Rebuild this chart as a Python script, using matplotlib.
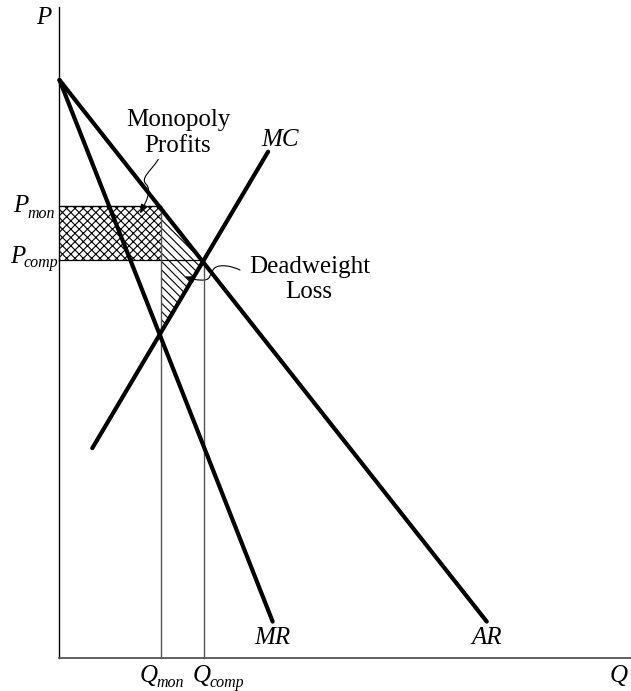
"""
Monopoly vs. competition: profits and deadweight loss
"""

import matplotlib

matplotlib.use("Agg")
import matplotlib.pyplot as plt
import numpy as np
from matplotlib.patches import FancyArrowPatch
from matplotlib.path import Path

# demand (AR), marginal revenue (MR) and marginal cost (MC) end points
ar_q = [0.0, 9.38]
ar_p = [10.0, 0.63]
mr_q = [0.0, 4.68]
mr_p = [10.0, 0.63]
mc_q = [0.72, 4.58]
mc_p = [3.63, 8.76]

# equilibrium quantities and prices
q_mon = 2.23
q_comp = 3.17
p_mon = 7.82
p_comp = 6.89

# axis extents
q_max = 12.55
p_max = 11.26

plt.rcParams["font.family"] = ["Liberation Serif", "DejaVu Serif"]
plt.rcParams["hatch.linewidth"] = 0.8

fig = plt.figure(figsize=(6.31, 6.91), dpi=100)
ax = fig.add_axes([0, 0, 1, 1])
ax.set_xlim(-1.306, 12.547)
ax.set_ylim(-0.571, 11.384)
ax.axis("off")

# shaded regions
mc_at_qmon = np.interp(q_mon, mc_q, mc_p)
ax.fill([0, q_mon, q_mon, 0], [p_comp, p_comp, p_mon, p_mon],
        facecolor="none", edgecolor="black", hatch="xxxx", lw=0)
ax.fill([q_mon, q_comp, q_mon], [p_mon, p_comp, mc_at_qmon],
        facecolor="none", edgecolor="black", hatch="\\\\\\\\", lw=0)

# axes
ax.plot([0, 0], [0, p_max], color="black", lw=1.0)
ax.plot([0, q_max], [0, 0], color="#555555", lw=1.3)

# guide lines
ax.plot([0, q_mon], [p_mon, p_mon], color="black", lw=1.0)
ax.plot([0, q_comp], [p_comp, p_comp], color="black", lw=0.9)
ax.plot([q_mon, q_mon], [0, p_mon], color="#555555", lw=1.0)
ax.plot([q_comp, q_comp], [0, p_comp], color="#555555", lw=1.0)

# curves
for qs, ps in [(ar_q, ar_p), (mr_q, mr_p), (mc_q, mc_p)]:
    ax.plot(qs, ps, color="black", lw=3.0, solid_capstyle="round")

fs = 18
sub = 11.5
it = dict(fontsize=fs, style="italic", va="baseline")
its = dict(fontsize=sub, style="italic", va="baseline")

ax.text(-0.35, 10.97, "P", ha="center", **it)
ax.text(-1.02, p_mon - 0.10, "P", ha="left", **it)
ax.text(-0.71, p_mon - 0.20, "mon", ha="left", **its)
ax.text(-1.09, p_comp - 0.05, "P", ha="left", **it)
ax.text(-0.78, p_comp - 0.12, "comp", ha="left", **its)

ax.text(q_mon - 0.48, -0.41, "Q", ha="left", **it)
ax.text(q_mon - 0.10, -0.50, "mon", ha="left", **its)
ax.text(q_comp - 0.25, -0.41, "Q", ha="left", **it)
ax.text(q_comp + 0.12, -0.50, "comp", ha="left", **its)
ax.text(12.08, -0.41, "Q", ha="left", **it)

ax.text(4.84, 8.86, "MC", ha="center", **it)
ax.text(mr_q[1], 0.24, "MR", ha="center", **it)
ax.text(ar_q[1], 0.24, "AR", ha="center", **it)

ax.text(2.60, 9.20, "Monopoly", ha="center", va="baseline", fontsize=fs)
ax.text(2.60, 8.76, "Profits", ha="center", va="baseline", fontsize=fs)
ax.text(5.50, 6.66, "Deadweight", ha="center", va="baseline", fontsize=fs)
ax.text(5.48, 6.23, "Loss", ha="center", va="baseline", fontsize=fs)

# curly pointer arrows
C4, M = Path.CURVE4, Path.MOVETO
mono_verts = [(2.169, 8.626), (1.99, 8.41), (1.77, 8.30), (1.90, 8.20),
              (2.03, 8.09), (1.92, 7.92), (1.77, 7.69)]
dwl_verts = [(3.963, 6.713), (3.79, 6.78), (3.53, 6.82), (3.41, 6.75),
             (3.26, 6.64), (3.37, 6.52), (3.08, 6.54),
             (2.97, 6.54), (2.86, 6.57), (2.755, 6.60)]
for verts in (mono_verts, dwl_verts):
    codes = [M] + [C4] * (len(verts) - 1)
    arrow = FancyArrowPatch(path=Path(verts, codes),
                            arrowstyle="-|>,head_length=0.45,head_width=0.18",
                            mutation_scale=12, color="black", lw=0.8)
    ax.add_patch(arrow)

fig.savefig("out.png", dpi=100)
